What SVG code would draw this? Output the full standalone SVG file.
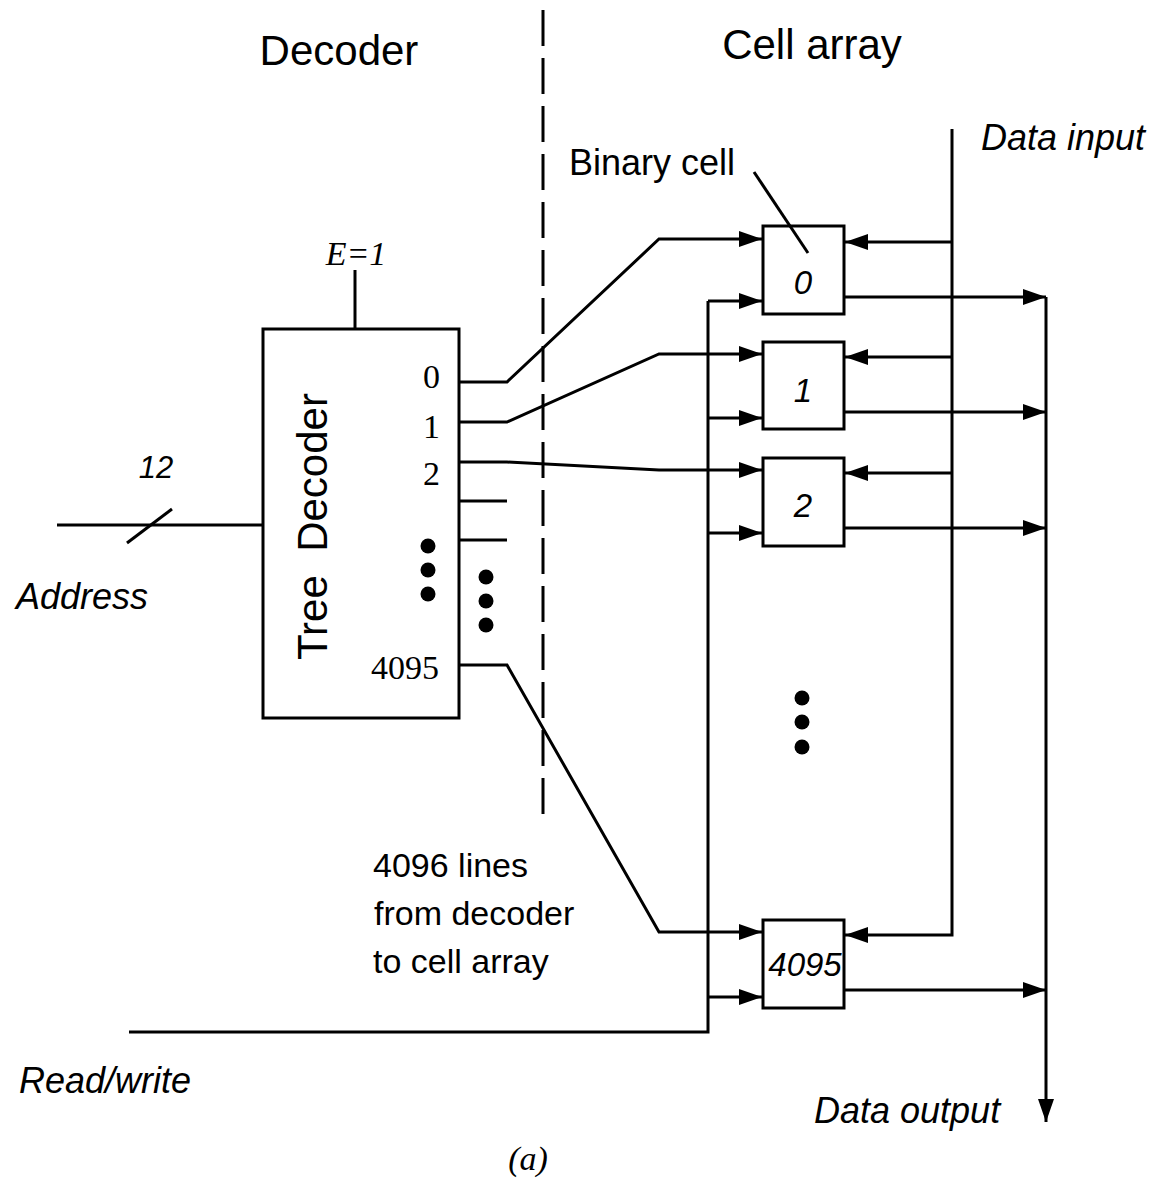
<svg xmlns="http://www.w3.org/2000/svg" width="1157" height="1193" viewBox="0 0 1157 1193">
<style>
.ln{fill:none;stroke:#000;stroke-width:3}
.box{fill:#fff;stroke:#000;stroke-width:3}
.sans{font-family:"Liberation Sans",Arial,sans-serif;fill:#000}
.it{font-style:italic}
.serif{font-family:"Liberation Serif","Times New Roman",serif;fill:#000}
.dot{fill:#000}
</style>
<defs>
<marker id="ah" markerUnits="userSpaceOnUse" markerWidth="24" markerHeight="17" refX="23" refY="8" orient="auto" overflow="visible">
<path d="M0,0 L23,8 L0,16 z" fill="#000"/>
</marker>
</defs>
<rect width="1157" height="1193" fill="#fff"/>

<g id="titles">
<text class="sans" x="339" y="65" font-size="42" text-anchor="middle">Decoder</text>
<text class="sans" x="812" y="59" font-size="42" text-anchor="middle">Cell array</text>
</g>

<g id="divider">
<line class="ln" x1="543" y1="10" x2="543" y2="826" stroke-dasharray="36 12"/>
</g>

<g id="connectors">
<!-- enable -->
<line class="ln" x1="355" y1="270" x2="355" y2="329"/>
<!-- address bus -->
<line class="ln" x1="57" y1="525" x2="263" y2="525"/>
<line class="ln" x1="127" y1="543" x2="172" y2="509"/>
<!-- decoder outputs -->
<polyline class="ln" points="459,382 507,382 659,239 762,239" marker-end="url(#ah)"/>
<polyline class="ln" points="459,422 507,422 659,354 762,354" marker-end="url(#ah)"/>
<polyline class="ln" points="459,462 507,462 659,470 762,470" marker-end="url(#ah)"/>
<line class="ln" x1="459" y1="501" x2="507" y2="501"/>
<line class="ln" x1="459" y1="540" x2="507" y2="540"/>
<polyline class="ln" points="459,665 507,665 659,932 762,932" marker-end="url(#ah)"/>
<!-- read/write -->
<polyline class="ln" points="129,1032 708,1032 708,301"/>
<line class="ln" x1="708" y1="301" x2="762" y2="301" marker-end="url(#ah)"/>
<line class="ln" x1="708" y1="418" x2="762" y2="418" marker-end="url(#ah)"/>
<line class="ln" x1="708" y1="533" x2="762" y2="533" marker-end="url(#ah)"/>
<line class="ln" x1="708" y1="997" x2="762" y2="997" marker-end="url(#ah)"/>
<!-- data input -->
<polyline class="ln" points="952,129 952,935 845,935" marker-end="url(#ah)"/>
<line class="ln" x1="952" y1="242" x2="845" y2="242" marker-end="url(#ah)"/>
<line class="ln" x1="952" y1="357" x2="845" y2="357" marker-end="url(#ah)"/>
<line class="ln" x1="952" y1="473" x2="845" y2="473" marker-end="url(#ah)"/>
<!-- data output -->
<line class="ln" x1="844" y1="297" x2="1046" y2="297" marker-end="url(#ah)"/>
<line class="ln" x1="844" y1="412" x2="1046" y2="412" marker-end="url(#ah)"/>
<line class="ln" x1="844" y1="528" x2="1046" y2="528" marker-end="url(#ah)"/>
<line class="ln" x1="844" y1="990" x2="1046" y2="990" marker-end="url(#ah)"/>
<line class="ln" x1="1046" y1="297" x2="1046" y2="1122" marker-end="url(#ah)"/>
</g>

<g id="tree-decoder">
<rect class="box" x="263" y="329" width="196" height="389"/>
<text class="sans" font-size="42" transform="translate(327,660) rotate(-90)" xml:space="preserve">Tree  Decoder</text>
<text class="serif" x="440" y="388" font-size="34" text-anchor="end">0</text>
<text class="serif" x="440" y="438" font-size="34" text-anchor="end">1</text>
<text class="serif" x="440" y="485" font-size="34" text-anchor="end">2</text>
<text class="serif" x="439" y="679" font-size="34" text-anchor="end">4095</text>
<circle class="dot" cx="428" cy="546" r="7.5"/>
<circle class="dot" cx="428" cy="570" r="7.5"/>
<circle class="dot" cx="428" cy="594" r="7.5"/>
</g>

<g id="outer-dots">
<circle class="dot" cx="486" cy="577" r="7.5"/>
<circle class="dot" cx="486" cy="601" r="7.5"/>
<circle class="dot" cx="486" cy="625" r="7.5"/>
</g>

<g id="cell-0">
<rect class="box" x="763" y="226" width="81" height="88"/>
<text class="sans it" x="803" y="294" font-size="33" text-anchor="middle">0</text>
</g>
<g id="cell-1">
<rect class="box" x="763" y="342" width="81" height="87"/>
<text class="sans it" x="803" y="402" font-size="33" text-anchor="middle">1</text>
</g>
<g id="cell-2">
<rect class="box" x="763" y="458" width="81" height="88"/>
<text class="sans it" x="803" y="517" font-size="33" text-anchor="middle">2</text>
</g>
<g id="cell-dots">
<circle class="dot" cx="802" cy="698" r="7.5"/>
<circle class="dot" cx="802" cy="722" r="7.5"/>
<circle class="dot" cx="802" cy="747" r="7.5"/>
</g>
<g id="cell-4095">
<rect class="box" x="763" y="920" width="81" height="88"/>
<text class="sans it" x="805" y="976" font-size="33" text-anchor="middle">4095</text>
</g>

<g id="binary-cell-leader">
<line class="ln" x1="754" y1="172" x2="808" y2="253"/>
</g>

<g id="labels">
<text class="serif it" x="356" y="265" font-size="34" text-anchor="middle">E=1</text>
<text class="sans it" x="156" y="478" font-size="31" text-anchor="middle">12</text>
<text class="sans it" x="16" y="609" font-size="36">Address</text>
<text class="sans it" x="19" y="1093" font-size="36">Read/write</text>
<text class="sans it" x="981" y="150" font-size="36">Data input</text>
<text class="sans it" x="814" y="1123" font-size="36">Data output</text>
<text class="sans" x="652" y="175" font-size="36" text-anchor="middle">Binary cell</text>
<text class="sans" x="373" y="877" font-size="34">4096 lines</text>
<text class="sans" x="374" y="925" font-size="34">from decoder</text>
<text class="sans" x="373" y="973" font-size="34">to cell array</text>
<text class="serif it" x="528" y="1170" font-size="34" text-anchor="middle">(a)</text>
</g>
</svg>
